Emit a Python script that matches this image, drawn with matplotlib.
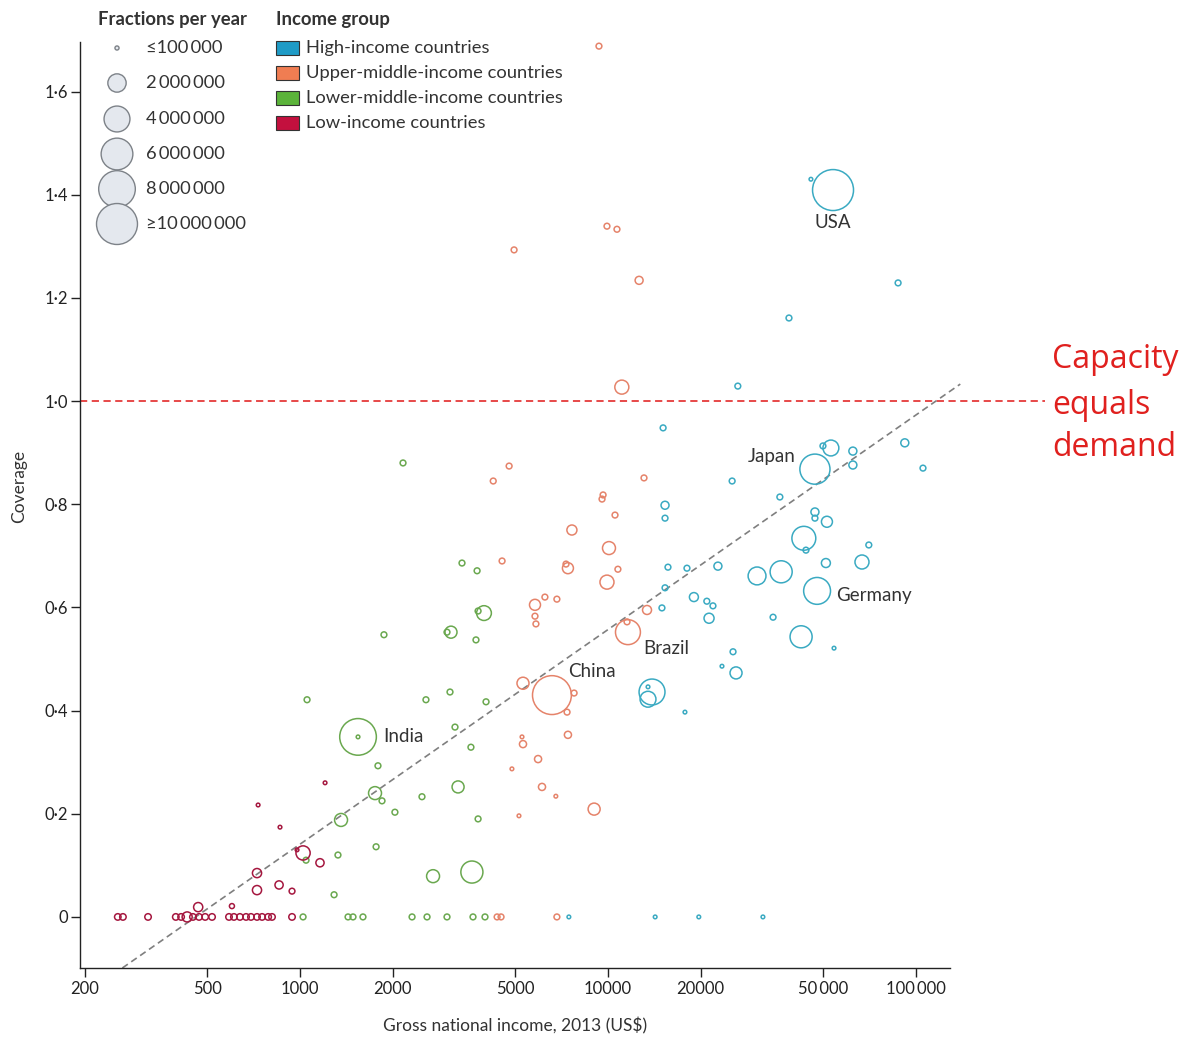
import numpy as np
import matplotlib
matplotlib.use("Agg")
import matplotlib.pyplot as plt   # noqa: E402
from matplotlib.patches import Rectangle   # noqa: E402

plt.rcParams["font.family"] = ["Lato", "DejaVu Sans"]

# --- data ----------------------------------------------------------------
# GNI per capita 2013 (US$), coverage, radiotherapy fractions per year (thousands)
low_gni = [256, 266, 321, 395, 411, 430, 449, 470, 492, 518, 588, 610, 638, 668,
           693, 725, 753, 788, 811, 942, 467, 601, 725, 725, 855, 942, 1023, 978,
           1161, 731, 861, 1206]
low_cov = [0, 0, 0, 0, 0, 0, 0, 0, 0, 0, 0, 0, 0, 0, 0, 0, 0, 0, 0, 0,
           0.019, 0.021, 0.052, 0.085, 0.062, 0.050, 0.124, 0.130, 0.105, 0.217,
           0.174, 0.260]
low_frac = [250, 250, 250, 250, 250, 600, 250, 250, 250, 250, 250, 250, 250, 250,
            250, 250, 250, 250, 250, 250, 500, 150, 500, 500, 400, 200, 1200, 80,
            400, 80, 80, 80]

lmid_gni = [1023, 1432, 1486, 1601, 2311, 2585, 3001, 3645, 3987, 1054, 1543, 1543,
            2564, 3069, 4018, 3186, 3589, 1791, 1752, 1846, 2033, 2489, 3260, 3786,
            1359, 1328, 1766, 1290, 1046, 2704, 3615, 2160, 3357, 3758, 3957, 3786,
            3092, 3001, 1873, 3727]
lmid_cov = [0, 0, 0, 0, 0, 0, 0, 0, 0, 0.421, 0.349, 0.349, 0.421, 0.436, 0.417,
            0.368, 0.329, 0.293, 0.240, 0.225, 0.203, 0.233, 0.252, 0.190, 0.188,
            0.120, 0.136, 0.043, 0.110, 0.079, 0.087, 0.880, 0.686, 0.671, 0.589,
            0.593, 0.552, 0.552, 0.547, 0.537]
lmid_frac = [200, 200, 200, 200, 200, 200, 200, 200, 200, 200, 8000, 80, 200, 200,
             200, 200, 200, 200, 1000, 200, 200, 200, 860, 200, 1000, 200, 200, 200,
             200, 1000, 2900, 200, 200, 200, 1300, 200, 860, 200, 200, 200]

umid_gni = [9348, 4955, 9925, 10695, 12620, 11090, 4775, 4240, 13090, 9640, 9565,
            10540, 7636, 10075, 4530, 7412, 7307, 10770, 9925, 5794, 6240, 6825,
            5794, 5835, 13390, 11610, 11530, 6577, 5297, 7762, 7364, 7412, 5258,
            5297, 5929, 4876, 6106, 6771, 5140, 9016, 4365, 4495, 6825]
umid_cov = [1.688, 1.293, 1.339, 1.333, 1.234, 1.027, 0.874, 0.845, 0.851, 0.818,
            0.810, 0.779, 0.750, 0.715, 0.690, 0.676, 0.684, 0.674, 0.649, 0.605,
            0.620, 0.616, 0.583, 0.568, 0.595, 0.552, 0.572, 0.430, 0.453, 0.434,
            0.397, 0.353, 0.349, 0.335, 0.306, 0.287, 0.252, 0.234, 0.196, 0.209,
            0, 0, 0]
umid_frac = [200, 200, 200, 200, 380, 1170, 200, 200, 200, 200, 200, 200, 600, 1000,
             200, 720, 200, 200, 1170, 720, 200, 200, 200, 200, 480, 3700, 200, 9000,
             860, 200, 200, 300, 80, 300, 300, 80, 300, 80, 80, 860, 200, 200, 200]

high_gni = [45600, 53800, 87500, 38700, 26400, 15100, 25300, 15320, 15320, 36150,
            15660, 18050, 22750, 15320, 14970, 19010, 20940, 21920, 21290, 34360,
            25470, 23450, 26050, 13900, 13490, 13490, 17780, 46990, 49890, 52950,
            62400, 62400, 92000, 105400, 46990, 46990, 51400, 43250, 43940, 70300,
            51000, 66800, 30480, 36500, 47750, 42370, 54200, 7464, 14230, 19720, 31850]
high_cov = [1.430, 1.409, 1.229, 1.161, 1.029, 0.948, 0.845, 0.798, 0.773, 0.814,
            0.678, 0.676, 0.680, 0.638, 0.599, 0.620, 0.612, 0.603, 0.579, 0.581,
            0.514, 0.486, 0.473, 0.436, 0.422, 0.446, 0.397, 0.868, 0.913, 0.909,
            0.903, 0.876, 0.919, 0.870, 0.785, 0.773, 0.766, 0.734, 0.711, 0.721,
            0.686, 0.688, 0.661, 0.669, 0.632, 0.543, 0.521, 0, 0, 0, 0]
high_frac = [80, 10000, 200, 200, 200, 200, 200, 380, 200, 200, 200, 200, 380, 200,
             200, 480, 200, 200, 600, 200, 200, 80, 860, 4000, 1500, 80, 80, 5400,
             200, 1500, 380, 380, 380, 200, 380, 200, 720, 3400, 200, 200, 480, 1170,
             1900, 2900, 4300, 2900, 80, 80, 80, 80, 80]

# labelled countries
countries = ["USA", "Japan", "Germany", "Brazil", "China", "India"]
country_gni = [53800, 46990, 47750, 11610, 6577, 1543]
country_cov = [1.409, 0.868, 0.632, 0.552, 0.430, 0.349]

# coverage = a + b * log10(GNI)
FIT_A = -1.107
FIT_B = 0.416

size_legend_vals = [100, 2000, 4000, 6000, 8000, 10000]
size_legend_text = ["\u2264100\u2009000", "2\u2009000\u2009000", "4\u2009000\u2009000",
                    "6\u2009000\u2009000", "8\u2009000\u2009000", "\u226510\u2009000\u2009000"]
group_names = ["High-income countries", "Upper-middle-income countries",
               "Lower-middle-income countries", "Low-income countries"]

# --- style -----------------------------------------------------------------
EDGE = ["#3aaac2", "#e5836a", "#6aa84f", "#a5173f"]
SWATCH = ["#1f9bc6", "#f07d52", "#5bb33a", "#c3103e"]
TXT = "#333333"
AREA_PER_K = 0.087   # marker area (pt^2) per 1000 fractions


def area(v):
    return np.asarray(v, dtype=float) * AREA_PER_K


fig = plt.figure(figsize=(11.91, 10.39), dpi=100)
ax = fig.add_axes([80 / 1191, 71 / 1039, 870 / 1191, 926 / 1039])
ax.set_xscale("log")
ax.set_xlim(193, 129000)
ax.set_ylim(-0.099, 1.696)

# fit line (runs a little past the right end of the axis)
x0 = 10 ** ((ax.get_ylim()[0] - FIT_A) / FIT_B)
xs = np.array([x0, ax.get_xlim()[1] * 1.08])
ax.plot(xs, FIT_A + FIT_B * np.log10(xs), color="#7f7f7f", lw=1.2,
        ls=(0, (4, 2.5)), clip_on=False, zorder=2)

# capacity = demand
ax.axhline(1.0, xmin=0, xmax=1.109, color="#e53a3a", lw=1.3,
           ls=(0, (4, 2.5)), clip_on=False, zorder=2)

groups = [(high_gni, high_cov, high_frac), (umid_gni, umid_cov, umid_frac),
          (lmid_gni, lmid_cov, lmid_frac), (low_gni, low_cov, low_frac)]
for (g, c, f), col in zip(groups, EDGE):
    ax.scatter(g, c, s=area(f), facecolors="none", edgecolors=col,
               linewidths=1.1, zorder=3)

offsets = [(0, -23, "center"), (-14, 9, "right"), (14, -3.5, "left"),
           (11, -11.5, "left"), (11.5, 17, "left"), (18, 0, "left")]
for name, g, c, (dx, dy, ha) in zip(countries, country_gni, country_cov, offsets):
    ax.annotate(name, (g, c), xytext=(dx, dy), textcoords="offset points",
                ha=ha, va="center", fontsize=13.5, color=TXT, zorder=4)

ax.spines["top"].set_visible(False)
ax.spines["right"].set_visible(False)
for s in ("left", "bottom"):
    ax.spines[s].set_linewidth(1.0)
    ax.spines[s].set_color("#222222")

yt = [0, 0.2, 0.4, 0.6, 0.8, 1.0, 1.2, 1.4, 1.6]
ax.set_yticks(yt)
ax.set_yticklabels(["0" if v == 0 else "{0:.1f}".format(v).replace(".", "\u00b7") for v in yt])
xt = [200, 500, 1000, 2000, 5000, 10000, 20000, 50000, 100000]
ax.set_xticks(xt)
ax.set_xticklabels(["200", "500", "1000", "2000", "5000", "10000", "20000",
                    "50\u2009000", "100\u2009000"])
ax.minorticks_off()
ax.tick_params(axis="both", direction="out", length=6.5, width=1.0,
               labelsize=12, colors="#222222")
ax.tick_params(axis="x", pad=3)
ax.tick_params(axis="y", pad=2)

ax.set_xlabel("Gross national income, 2013 (US$)", fontsize=12.5, color=TXT)
ax.xaxis.set_label_coords(0.5, -0.053)
ax.set_ylabel("Coverage", fontsize=12.5, color=TXT)
ax.yaxis.set_label_coords(-0.061, 0.52)

# --- legends and note, laid out in pixel coordinates ------------------------
ov = fig.add_axes([0, 0, 1, 1], zorder=5)
ov.set_xlim(0, 1191)
ov.set_ylim(1039, 0)
ov.axis("off")
ov.patch.set_alpha(0)

ov.text(98, 20, "Fractions per year", fontsize=13.3, fontweight="bold",
        color=TXT, va="center")
rows = [48, 83, 119, 154, 189, 224]
ov.scatter([117] * len(rows), rows, s=area(size_legend_vals), facecolor="#e4e8ee",
           edgecolor="#7d8288", linewidths=1.0)
for y, t in zip(rows, size_legend_text):
    ov.text(146, y, t, fontsize=13.2, color=TXT, va="center")

ov.text(276, 20, "Income group", fontsize=13.3, fontweight="bold",
        color=TXT, va="center")
for i, (name, col) in enumerate(zip(group_names, SWATCH)):
    y = 48 + 25 * i
    ov.add_patch(Rectangle((276, y - 7), 23, 14, facecolor=col,
                           edgecolor="#333333", lw=0.8))
    ov.text(306, y, name, fontsize=13.2, color=TXT, va="center")

for y, word in zip([360, 405, 448], ["Capacity", "equals", "demand"]):
    ov.text(1052, y, word, fontsize=23, color="#e0201e", va="center",
            family=["Open Sans", "DejaVu Sans"])

fig.savefig("out.png", dpi=100)
